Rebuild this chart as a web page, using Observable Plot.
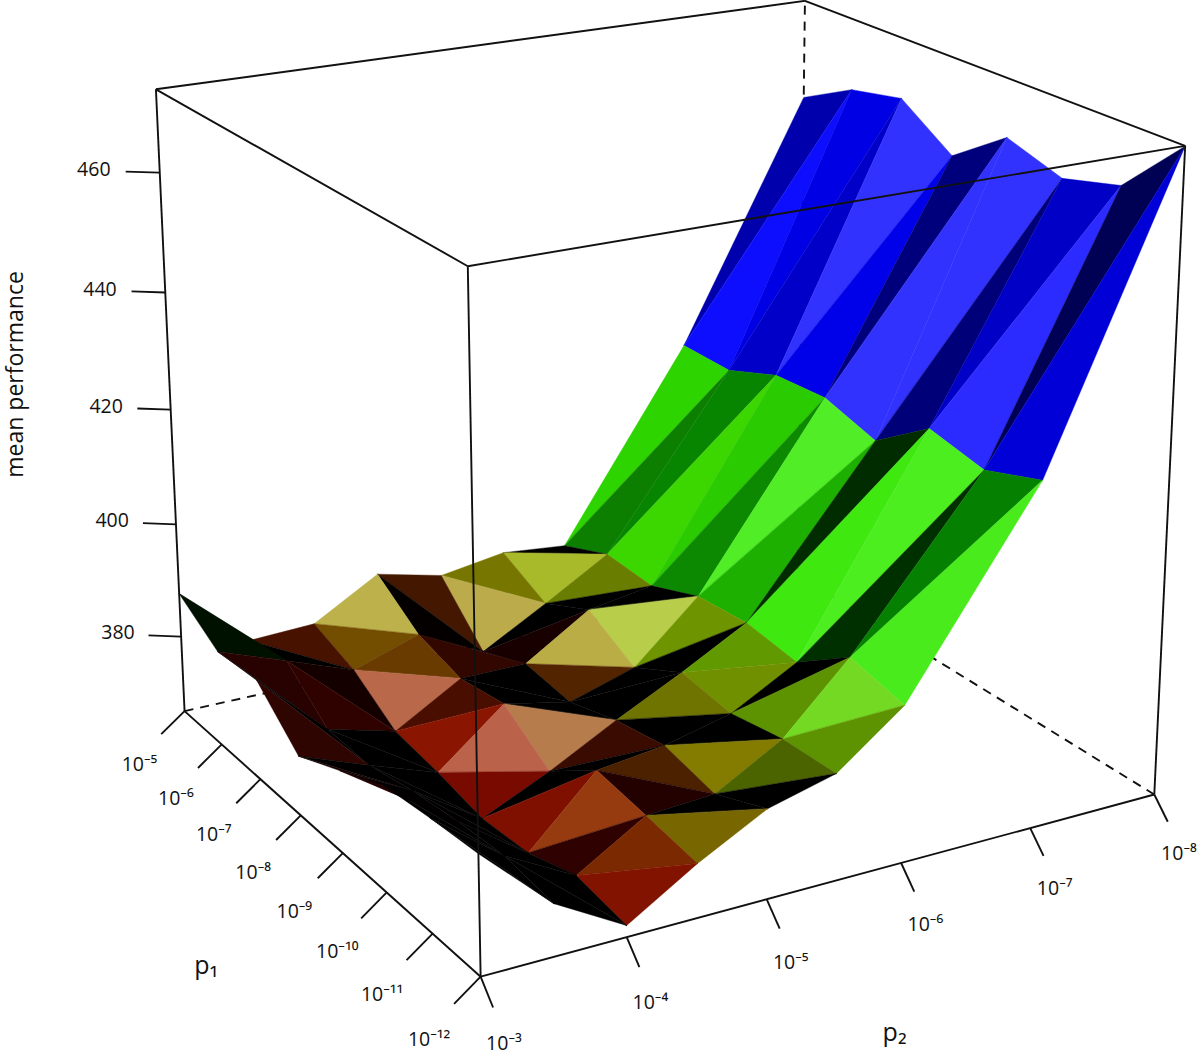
<!DOCTYPE html>
<html><head><meta charset="utf-8">
<style>html,body{margin:0;padding:0;background:#fff;overflow:hidden}svg{display:block}</style>
<script src="https://cdn.jsdelivr.net/npm/d3@7"></script>
<script src="https://cdn.jsdelivr.net/npm/@observablehq/plot@0.6"></script>
</head><body><div id="chart"></div>
<script>
// ---- values ----
const p1Exponents = [-5,-6,-7,-8,-9,-10,-11,-12];
const p2Exponents = [-3,-3.5,-4,-4.5,-5,-5.5,-6,-7,-8];
const p2TickExponents = [-3,-4,-5,-6,-7,-8];
const perfTicks = [380,400,420,440,460];
const perfRange = [366.5,473.65];
// mean performance: one row per p2 level, one column per p1 level
const perfP2m3   = [387.7,383.0,383.8,376.7,380.4,384.2,385.3,386.1];
const perfP2m3h  = [376.7,378.8,372.5,372.3,374.2,375.5,376.2,375.1];
const perfP2m4   = [377.2,374.5,369.4,368.2,366.5,367.1,369.9,368.4];
const perfP2m4h  = [383.8,378.3,376.1,377.5,371.8,378.2,376.9,375.5];
const perfP2m5   = [381.1,372.6,376.1,375.1,377.9,379.6,377.6,381.5];
const perfP2m5h  = [382.9,378.9,383.3,378.6,383.5,382.3,384.0,384.4];
const perfP2m6   = [381.8,385.5,385.1,388.7,389.6,388.4,395.0,392.9];
const perfP2m7   = [414.7,414.7,418.4,419.1,416.4,423.3,421.3,424.6];
const perfP2m8   = [456.4,461.3,463.3,457.1,463.9,460.9,463.6,473.6];
const perfRows = [perfP2m3,perfP2m3h,perfP2m4,perfP2m4h,perfP2m5,perfP2m5h,perfP2m6,perfP2m7,perfP2m8];

// ---- view: perspective camera of the unit box (u = p1, v = p2, w = performance) ----
const camera = [[229.3717,686.785,-37.42573,184.0686],[130.0112,-83.43563,-626.7959,710.591],[-0.1388898,0.0924627,-0.05644668,1]];
const project = (u,v,w) => {
  const [a,b,c] = camera, h = c[0]*u+c[1]*v+c[2]*w+c[3];
  return {px:(a[0]*u+a[1]*v+a[2]*w+a[3])/h, py:(b[0]*u+b[1]*v+b[2]*w+b[3])/h};
};
const uOf = e => (p1Exponents[0]-e)/7;
const vOf = e => (p2Exponents[0]-e)/5;
const wOf = d3.scaleLinear().domain(perfRange).range([0,1]);

// ---- shading: light in box coordinates, colour by facet height ----
const light = {u:2.2, v:-1.1, w:-0.2, gain:1.1};
const ramp = d3.scaleLinear()
  .domain([0,.05,.09,.1,.125,.15,.18,.21,.3,.5,.55])
  .range(["rgb(165,5,0)","rgb(160,25,0)","rgb(150,75,0)","rgb(160,135,0)","rgb(160,145,0)","rgb(155,178,0)","rgb(150,205,0)","rgb(105,215,0)","rgb(50,230,0)","rgb(50,240,0)","rgb(0,0,255)"])
  .clamp(true);
function shade(A,B,C){
  const e1=[B.u-A.u,B.v-A.v,B.w-A.w], e2=[C.u-A.u,C.v-A.v,C.w-A.w];
  let n=[e1[1]*e2[2]-e1[2]*e2[1], e1[2]*e2[0]-e1[0]*e2[2], e1[0]*e2[1]-e1[1]*e2[0]];
  if(n[2]<0) n=n.map(x=>-x);
  const len=Math.hypot(...n);
  const dot=(n[0]*light.u+n[1]*light.v+n[2]*light.w)/len*light.gain;
  let D=Math.max(0,dot,(-dot-1.2)*0.4);
  if(n[1]>0 && dot>0) D*=.3;
  const mean=(A.w+B.w+C.w)/3, low=mean<.25;
  const base=d3.rgb(ramp(mean));
  const top=Math.max(base.r,base.g,base.b);
  const spec=low?75*Math.min(1,Math.max(0,(D-.8)/.3)):50*Math.min(1,Math.max(0,(D-.95)/.2));
  const gamma=low?.55:.8;
  const ch=c=>{
    const minor=c<top?(low?Math.min(1,Math.max(0,(D-.05)/.4)):Math.min(1,Math.max(0,(D-.35)/.5))):1;
    const lit=c*Math.pow(Math.min(D,1),gamma)*minor;
    return Math.min(255,Math.round(lit+spec*(1-lit/255)));
  };
  return `rgb(${ch(base.r)},${ch(base.g)},${ch(base.b)})`;
}
// ---- mesh, back to front ----
const vertex=(i,k)=>{const u=uOf(p1Exponents[i]),v=vOf(p2Exponents[k]),w=wOf(perfRows[k][i]);return {u,v,w,...project(u,v,w)};};
const facetPoints=[];
for(let k=p2Exponents.length-2;k>=0;k--){
  for(let i=0;i<p1Exponents.length-1;i++){
    const a=vertex(i,k),b=vertex(i+1,k),c=vertex(i+1,k+1),d=vertex(i,k+1);
    for(const [tag,tri] of [["U",[a,d,c]],["L",[a,b,c]]]){
      const col=shade(...tri), id=`${k}-${i}-${tag}`;
      for(const p of tri) facetPoints.push({id,col,x:p.px,y:p.py});
    }
  }
}
// ---- box ----
const segment=(a,b)=>{const p=project(...a),q=project(...b);return {x1:p.px,y1:p.py,x2:q.px,y2:q.py};};
const hiddenEdges=[[[0,0,0],[0,1,0]],[[1,1,0],[0,1,0]],[[0,1,0],[0,1,1]]].map(e=>segment(...e));
const visibleEdges=[[[0,0,1],[1,0,1]],[[1,0,1],[1,1,1]],[[1,1,1],[0,1,1]],[[0,1,1],[0,0,1]],
  [[0,0,0],[0,0,1]],[[1,0,0],[1,0,1]],[[1,1,0],[1,1,1]],[[0,0,0],[1,0,0]],[[1,0,0],[1,1,0]]].map(e=>segment(...e));
const sup={"-":"⁻","0":"⁰","1":"¹","2":"²","3":"³","4":"⁴","5":"⁵","6":"⁶","7":"⁷","8":"⁸","9":"⁹"};
const powerOfTen=e=>"10"+[...String(e)].map(c=>sup[c]).join("");
const ticks=[
  ...p1Exponents.map(e=>segment([uOf(e),0,0],[uOf(e),-.036,-.03])),
  ...p2TickExponents.map(e=>segment([1,vOf(e),0],[1.035,vOf(e),-.03])),
  ...perfTicks.map(t=>segment([0,0,wOf(t)],[-.03,-.037,wOf(t)]))
];
const labels=[
  ...p1Exponents.map(e=>({text:powerOfTen(e),...project(uOf(e),-.07,-.073)})),
  ...p2TickExponents.map(e=>({text:powerOfTen(e),...project(1.065,vOf(e),-.07)})),
  ...perfTicks.map(t=>({text:String(t),...project(-.057,-.072,wOf(t)+.002)}))
];
const titles=[
  {text:"p₁",...project(.5,-.167,-.164)},
  {text:"p₂",...project(1.16,.5,-.165)}
];
const yTitle=[{text:"mean performance",...project(-.145,-.168,.545)}];
const font="'Open Sans','Noto Sans',sans-serif";
const ink="#111";
document.getElementById("chart").append(Plot.plot({
  width:1200,height:1057,margin:0,
  x:{domain:[0,1200],range:[0,1200],axis:null},
  y:{domain:[0,1057],range:[0,1057],axis:null},
  color:{type:"identity"},
  style:{fontFamily:font,background:"#fff"},
  marks:[
    Plot.link(hiddenEdges,{x1:"x1",y1:"y1",x2:"x2",y2:"y2",stroke:ink,strokeWidth:1.9,strokeDasharray:"9,7"}),
    Plot.line(facetPoints,{x:"x",y:"y",z:"id",fill:"col",stroke:"col",strokeWidth:.4,curve:"linear-closed"}),
    Plot.link(visibleEdges,{x1:"x1",y1:"y1",x2:"x2",y2:"y2",stroke:ink,strokeWidth:1.9}),
    Plot.link(ticks,{x1:"x1",y1:"y1",x2:"x2",y2:"y2",stroke:ink,strokeWidth:1.9}),
    Plot.text(labels,{x:"px",y:"py",text:"text",fontSize:19.5,fill:ink}),
    Plot.text(titles,{x:"px",y:"py",text:"text",fontSize:25,fill:ink}),
    Plot.text(yTitle,{x:"px",y:"py",text:"text",fontSize:23,rotate:-90,fill:ink})
  ]
}));
</script></body></html>
